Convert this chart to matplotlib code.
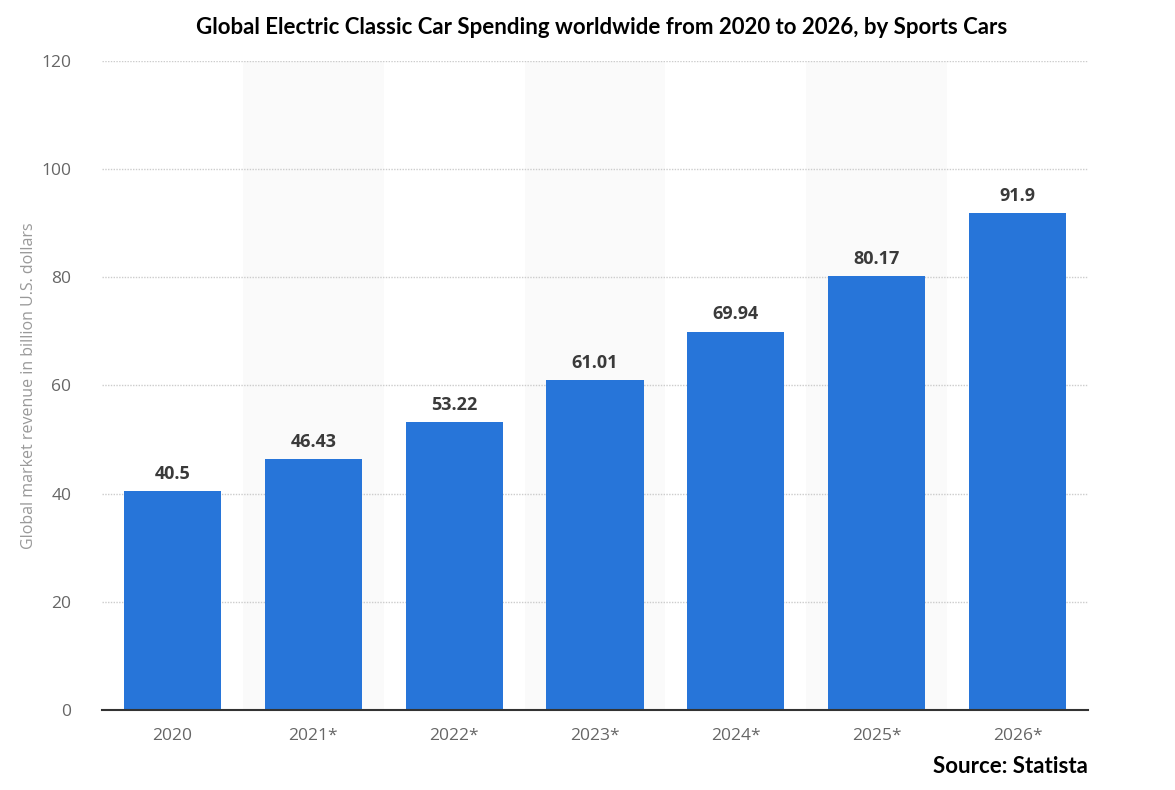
import numpy as np
import matplotlib.pyplot as plt

years = ['2020', '2021*', '2022*', '2023*', '2024*', '2025*', '2026*']
revenue = [40.5, 46.43, 53.22, 61.01, 69.94, 80.17, 91.9]
value_labels = ['40.5', '46.43', '53.22', '61.01', '69.94', '80.17', '91.9']
y_ticks = [0, 20, 40, 60, 80, 100, 120]


def main():
    fig = plt.figure(figsize=(11.75, 7.9), dpi=100)
    ax = fig.add_axes([0.0868, 0.1013, 0.8392, 0.8215])

    x = np.arange(len(years))

    # light bands behind every second category
    for i in x[1::2]:
        ax.axvspan(i - 0.5, i + 0.5, color='#fafafa', zorder=0, lw=0)

    ax.bar(x, revenue, width=0.69, color='#2775d9', zorder=3)

    for xi, v, lab in zip(x, revenue, value_labels):
        ax.annotate(lab, (xi, v), xytext=(0, 6), textcoords='offset points',
                    ha='center', va='bottom', fontsize=13, fontweight='bold',
                    color='#3a3a3a', family='Open Sans')

    ax.set_xlim(-0.5, len(years) - 0.5)
    ax.set_ylim(0, 120)
    ax.set_yticks(y_ticks)
    ax.set_xticks(x)
    ax.set_xticklabels(years)
    ax.yaxis.grid(True, linestyle=(0, (1, 1)), color='#cccccc', lw=1, zorder=1)

    for side in ['top', 'right', 'left']:
        ax.spines[side].set_visible(False)
    ax.spines['bottom'].set_color('#333333')
    ax.spines['bottom'].set_linewidth(1.5)
    ax.spines['bottom'].set_zorder(4)

    ax.tick_params(axis='both', length=0, labelsize=12.5, labelcolor='#666666')
    ax.tick_params(axis='x', pad=13)
    ax.tick_params(axis='y', pad=22)
    for t in ax.get_xticklabels() + ax.get_yticklabels():
        t.set_family('Open Sans')

    ax.set_ylabel('Global market revenue in billion U.S. dollars', fontsize=11.5,
                  color='#999999', family='Open Sans', labelpad=3)

    fig.text(0.512, 0.965, 'Global Electric Classic Car Spending worldwide from 2020 to 2026, by Sports Cars',
             ha='center', va='center', fontsize=16, fontweight='bold', family='Lato')
    fig.text(0.926, 0.03, 'Source: Statista', ha='right', va='center',
             fontsize=16, fontweight='bold', family='Lato')

    fig.savefig('out.png', dpi=100)
    plt.close(fig)


if __name__ == '__main__':
    main()
